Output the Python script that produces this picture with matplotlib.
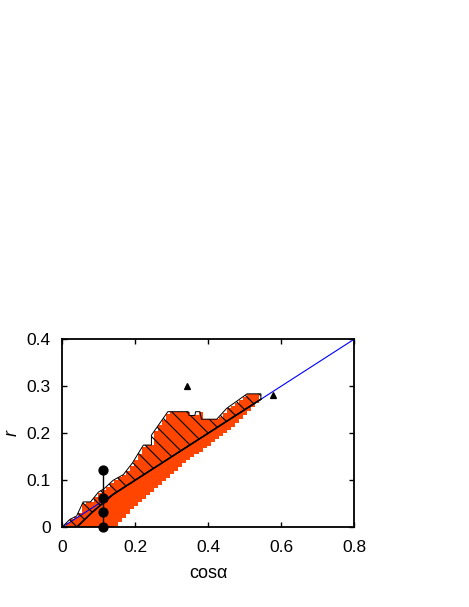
import numpy as np
import matplotlib
matplotlib.use('Agg')
import matplotlib.pyplot as plt

plt.rcParams['font.family'] = ['Liberation Sans', 'DejaVu Sans']
plt.rcParams['hatch.linewidth'] = 0.9

# orange band, one column per cell (width 0.011)
cell_w = 0.011
band_top = [0.0, 0.009, 0.017, 0.021, 0.031, 0.049, 0.054, 0.054, 0.064, 0.074,
            0.080, 0.086, 0.094, 0.101, 0.106, 0.111, 0.120, 0.131, 0.143, 0.157,
            0.171, 0.175, 0.175, 0.205, 0.217, 0.229, 0.242, 0.246, 0.246, 0.246,
            0.246, 0.246, 0.238, 0.238, 0.246, 0.230, 0.230, 0.230, 0.230, 0.234,
            0.244, 0.253, 0.259, 0.265, 0.271, 0.277, 0.283, 0.284, 0.284]
band_bot = [0.0, 0.0, 0.0, 0.0, 0.0, 0.0, 0.0, 0.0, 0.0, 0.0,
            0.0, 0.0, 0.0, 0.003, 0.012, 0.020, 0.029, 0.038, 0.046, 0.053,
            0.061, 0.068, 0.075, 0.083, 0.090, 0.098, 0.105, 0.113, 0.120, 0.128,
            0.136, 0.143, 0.149, 0.155, 0.161, 0.168, 0.174, 0.181, 0.187, 0.194,
            0.200, 0.207, 0.213, 0.222, 0.230, 0.239, 0.247, 0.256, 0.264]

# upper outline of the hatched region
outline_x = [0.0, 0.015, 0.022, 0.04, 0.058, 0.078, 0.1, 0.115, 0.14, 0.168, 0.193,
             0.223, 0.245, 0.245, 0.29, 0.346, 0.348, 0.364, 0.366, 0.378, 0.382,
             0.424, 0.451, 0.507, 0.545, 0.545]
outline_y = [0.0, 0.012, 0.017, 0.024, 0.054, 0.054, 0.075, 0.082, 0.1, 0.112, 0.137,
             0.175, 0.175, 0.196, 0.246, 0.246, 0.238, 0.238, 0.246, 0.246, 0.23,
             0.23, 0.253, 0.284, 0.284, 0.2725]

# lower black curve
curve_x = [0.04, 0.08, 0.11, 0.14, 0.545]
curve_y = [0.0, 0.03, 0.05, 0.07, 0.2725]

# blue reference line
line_x = [0.0, 0.8]
line_y = [0.0, 0.4]

# circles
circ_x = 0.113
circ_y = [0.0, 0.032, 0.062, 0.122]

# triangles
tri_x = [0.342, 0.579]
tri_y = [0.301, 0.2815]

# dpi 90 so that the hatch spacing comes out near 7.5 px
fig = plt.figure(figsize=(469 / 90, 607 / 90), dpi=90)
ax = fig.add_axes([0.1322, 0.1313, 0.6226, 0.3097])

edges = np.round(np.arange(len(band_top) + 1) * cell_w, 4)
ax.fill_between(edges, band_bot + [band_bot[-1]], band_top + [band_top[-1]],
                step='post', color='#ff4500', lw=0, zorder=1)

ax.plot(line_x, line_y, color='blue', lw=0.9, zorder=2)

# hatched polygon
poly_x = outline_x + curve_x[::-1] + [0.0]
poly_y = outline_y + curve_y[::-1] + [0.0]
ax.fill(poly_x, poly_y, facecolor='none', edgecolor='black', hatch='\\\\',
        lw=0.8, zorder=3)
ax.plot(curve_x, curve_y, color='black', lw=1.3, zorder=4)

ax.plot([circ_x] * len(circ_y), circ_y, 'k-', lw=1.1, marker='o', ms=7.2,
        zorder=5, clip_on=False)
ax.plot(tri_x, tri_y, 'k^', ms=5, zorder=5)

ax.set_xlim(0, 0.8)
ax.set_ylim(0, 0.4)
ax.set_xticks([0, 0.2, 0.4, 0.6, 0.8])
ax.set_xticklabels(['0', '0.2', '0.4', '0.6', '0.8'])
ax.set_yticks([0, 0.1, 0.2, 0.3, 0.4])
ax.set_yticklabels(['0', '0.1', '0.2', '0.3', '0.4'])
ax.tick_params(direction='in', length=3.9, width=1.1, top=True, right=True,
               labelsize=13.9)
ax.tick_params(axis='x', pad=10)
ax.tick_params(axis='y', pad=8.9)
for sp in ax.spines.values():
    sp.set_linewidth(1.45)

ax.set_xlabel('cos\u03b1', fontsize=14.4, labelpad=8)
ax.set_ylabel('r', fontsize=14.4, style='italic', labelpad=5)

fig.savefig('out.png', dpi=90)
